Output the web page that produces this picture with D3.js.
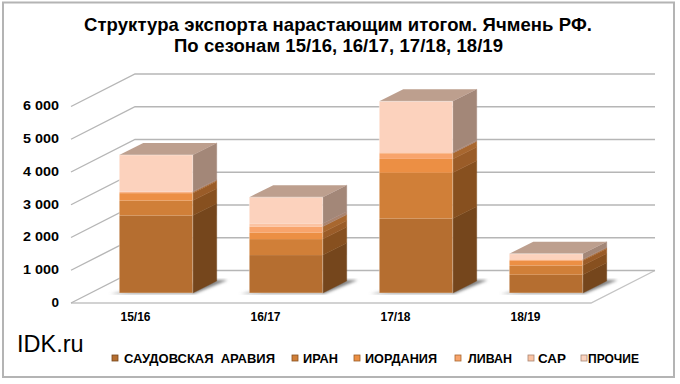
<!DOCTYPE html>
<html>
<head>
<meta charset="utf-8">
<script src="https://cdn.jsdelivr.net/npm/d3@7"></script>
<style>
  body { margin: 0; background: #fff; }
  text { font-family: "Liberation Sans", Arial, sans-serif; fill: #000; }
</style>
</head>
<body>
<svg id="chart" width="680" height="384"></svg>
<script>
// values
const seasons = ['15/16', '16/17', '17/18', '18/19'];
const countries = ['САУДОВСКАЯ  АРАВИЯ', 'ИРАН', 'ИОРДАНИЯ', 'ЛИВАН', 'САР', 'ПРОЧИЕ'];
const saudi = [2366, 1158, 2274, 558];
const iran = [457, 488, 1394, 283];
const jordan = [226, 202, 427, 143];
const lebanon = [30, 182, 173, 30];
const syria = [20, 92, 30, 20];
const other = [1117, 805, 1556, 164];
const yTicks = [0, 1000, 2000, 3000, 4000, 5000, 6000];

const frontColors = ['#b56e30', '#d07f38', '#ec8f44', '#f8a46c', '#fbc3a3', '#fcd2bd'];
const sideColors = ['#75461c', '#87501f', '#9a5c28', '#a8672f', '#a98470', '#a38778'];
const topColor = '#bd9f8e';
const legendX = [112, 292, 354, 455, 528, 581];
const legendLabelX = [124, 303, 365, 468, 538, 588];
const legendWidth = [151, 35, 72, 44, 28, 51];

const svg = d3.select('#chart');
const rows = [saudi, iran, jordan, lebanon, syria, other];
const table = seasons.map((s, i) => {
  const row = { season: s };
  countries.forEach((c, j) => { row[c] = rows[j][i]; });
  return row;
});
const stacked = d3.stack().keys(countries)(table);

// front plane of the 3d box
const y = d3.scaleLinear().domain([0, 6000]).range([303, 106.5]);
const x = d3.scaleBand().domain(seasons).range([71, 591]).paddingInner(0.435).paddingOuter(0.2175);
const depthX = 64, depthY = -32.5;   // wall depth
const barDX = 24, barDY = -12;       // bar depth
const barLiftX = 20, barLiftY = -10; // bars stand inside the floor, not on its edge

// outer frame
svg.append('rect').attr('x', 3).attr('y', 2.5).attr('width', 671).attr('height', 374.5)
  .attr('fill', '#fff').attr('stroke', '#b4b4b4').attr('stroke-width', 2);

const defs = svg.append('defs');
defs.append('filter').attr('id', 'blur').append('feGaussianBlur').attr('stdDeviation', 1.5);

// floor
const floorRight = x.range()[1];
svg.append('path')
  .attr('d', `M${x.range()[0]},${y(0)}L${floorRight},${y(0)}L${floorRight + depthX},${y(0) + depthY}`)
  .attr('fill', 'none').attr('stroke', '#c4c4c4').attr('stroke-width', 1.4);

// walls
const grid = svg.append('g').attr('fill', 'none').attr('stroke', '#b6b6b6').attr('stroke-width', 1.4);
grid.selectAll('path').data(yTicks).join('path')
  .attr('d', d => `M${x.range()[0]},${y(d)}L${x.range()[0] + depthX},${y(d) + depthY}L${floorRight + depthX},${y(d) + depthY}`);

// soft shadows on the floor
const front = d => x(d.season) + barLiftX;
svg.append('g').selectAll('path').data(table).join('path')
  .attr('filter', 'url(#blur)')
  .attr('fill', '#808080')
  .attr('d', d => {
    const l = front(d), r = l + x.bandwidth(), b = y(0) + barLiftY;
    return `M${l - 9},${b + 0.5}L${r + 2},${b + 0.5}L${r + barDX + 11},${b - 13}L${r + barDX},${b - 13}Z`;
  });

// bars: side, front, then the lid
const layers = svg.append('g').selectAll('g').data(stacked).join('g');
layers.selectAll('.side').data((s, k) => s.map(d => ({ d, k }))).join('path')
  .attr('class', 'side')
  .attr('fill', p => sideColors[p.k])
  .attr('stroke', p => sideColors[p.k]).attr('stroke-width', 0.4)
  .attr('d', p => {
    const r = front(p.d.data) + x.bandwidth();
    const y0 = y(p.d[0]) + barLiftY, y1 = y(p.d[1]) + barLiftY;
    return `M${r},${y0}L${r + barDX},${y0 + barDY}L${r + barDX},${y1 + barDY}L${r},${y1}Z`;
  });
layers.selectAll('.front').data((s, k) => s.map(d => ({ d, k }))).join('rect')
  .attr('class', 'front')
  .attr('x', p => front(p.d.data))
  .attr('width', x.bandwidth())
  .attr('y', p => y(p.d[1]) + barLiftY)
  .attr('height', p => y(p.d[0]) - y(p.d[1]))
  .attr('fill', p => frontColors[p.k]);

const totals = table.map(d => d3.sum(countries, c => d[c]));
svg.append('g').selectAll('path').data(table).join('path')
  .attr('fill', topColor)
  .attr('d', (d, i) => {
    const l = front(d), r = l + x.bandwidth(), t = y(totals[i]) + barLiftY;
    return `M${l},${t}L${l + barDX},${t + barDY}L${r + barDX},${t + barDY}L${r},${t}Z`;
  });

// light edge round each front face
svg.append('g').selectAll('rect').data(table).join('rect')
  .attr('x', d => front(d))
  .attr('width', x.bandwidth())
  .attr('y', (d, i) => y(totals[i]) + barLiftY)
  .attr('height', (d, i) => y(0) - y(totals[i]))
  .attr('fill', 'none').attr('stroke', '#fff').attr('stroke-opacity', 0.35);

// value axis labels
svg.append('g').selectAll('text').data(yTicks).join('text')
  .attr('x', d => d === 0 ? 59 : 23).attr('y', d => y(d) + 3.9)
  .attr('text-anchor', d => d === 0 ? 'end' : 'start')
  .attr('font-size', 13.5).attr('font-weight', 'bold')
  .each(function(d) {
    if (d !== 0) d3.select(this).attr('textLength', 36).attr('lengthAdjust', 'spacingAndGlyphs');
  })
  .text(d => d === 0 ? '0' : d3.format(',')(d).replace(',', ' '));

// season labels
svg.append('g').selectAll('text').data(seasons).join('text')
  .attr('x', d => x(d) + x.bandwidth() / 2 - 0.5)
  .attr('y', 320.5)
  .attr('text-anchor', 'middle')
  .attr('font-size', 12).attr('font-weight', 'bold')
  .text(d => d);

// title
const title = svg.append('g').attr('font-weight', 'bold').attr('font-size', 18.5);
title.append('text').attr('x', 84).attr('y', 31).attr('textLength', 508).text('Структура экспорта нарастающим итогом. Ячмень РФ.');
title.append('text').attr('x', 174).attr('y', 52).attr('textLength', 329).text('По сезонам 15/16, 16/17, 17/18, 18/19');

// logo
svg.append('text').attr('x', 17).attr('y', 352).attr('font-size', 23.5).text('IDK.ru');

// legend
const legend = svg.append('g').selectAll('g').data(countries).join('g');
legend.append('rect')
  .attr('x', (d, i) => legendX[i]).attr('y', 355).attr('width', 6).attr('height', 6)
  .attr('fill', (d, i) => frontColors[i]).attr('stroke', (d, i) => sideColors[i]).attr('stroke-width', 0.8);
legend.append('text')
  .attr('x', (d, i) => legendLabelX[i]).attr('y', 363)
  .attr('font-size', 13).attr('font-weight', 'bold')
  .attr('textLength', (d, i) => legendWidth[i]).attr('lengthAdjust', 'spacingAndGlyphs')
  .style('white-space', 'pre')
  .text(d => d);
</script>
</body>
</html>
